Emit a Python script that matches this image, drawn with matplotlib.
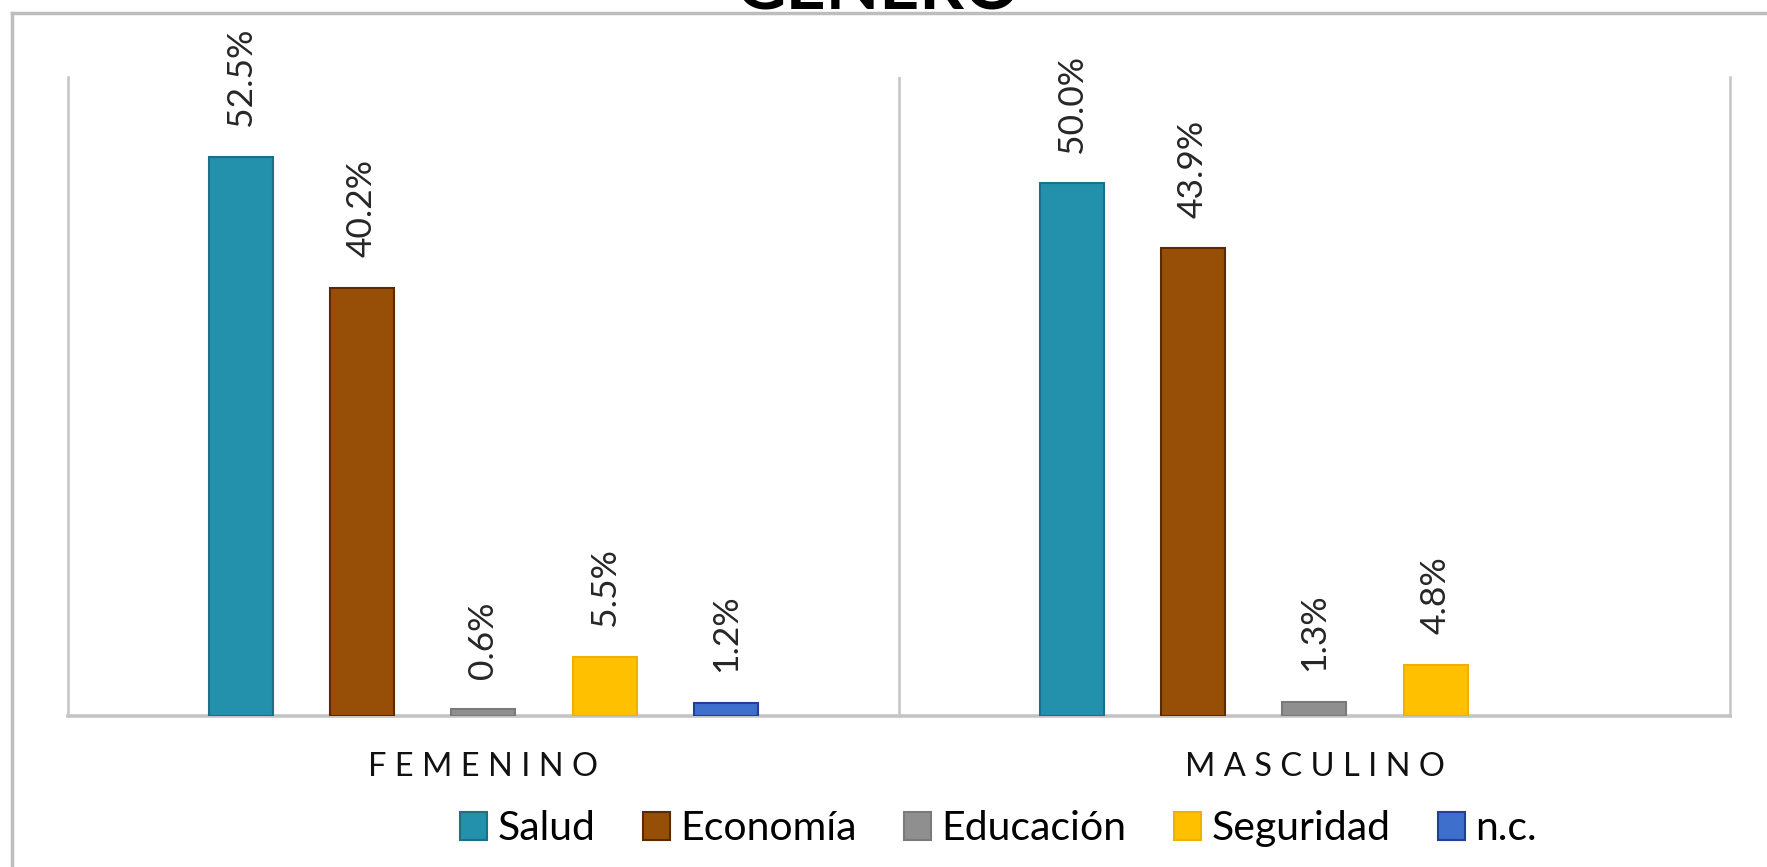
import matplotlib
matplotlib.use('Agg')
import matplotlib.pyplot as plt
from matplotlib.lines import Line2D
import numpy as np

plt.rcParams['font.family'] = ['Lato', 'DejaVu Sans']

CATEGORIES = ['FEMENINO', 'MASCULINO']
SERIES = ['Salud', 'Economía', 'Educación', 'Seguridad', 'n.c.']
SALUD = [52.5, 50.0]
ECONOMIA = [40.2, 43.9]
EDUCACION = [0.6, 1.3]
SEGURIDAD = [5.5, 4.8]
NC = [1.2, None]

COLORS = ['#2391ac', '#974e06', '#8f8f8f', '#ffc000', '#3f6fcc']
EDGES = ['#1b6f86', '#5c2a00', '#7a7a7a', '#f0b000', '#1f3f9a']
GRID = '#c4c4c4'

STEP = 0.146
WIDTH = 0.077


def main():
    fig = plt.figure(figsize=(17.67, 8.67), dpi=100)
    ax = fig.add_axes([0.0383, 0.1746, 0.9408, 0.737])

    values = [SALUD, ECONOMIA, EDUCACION, SEGURIDAD, NC]
    x = np.arange(len(CATEGORIES))
    handles = []
    for i, (name, vals) in enumerate(zip(SERIES, values)):
        xs = [xx + (i - 2) * STEP for xx, v in zip(x, vals) if v is not None]
        vs = [v for v in vals if v is not None]
        bars = ax.bar(xs, vs, WIDTH, color=COLORS[i], edgecolor=EDGES[i],
                      linewidth=1.5, label=name, zorder=3)
        handles.append(bars)
        for xx, v in zip(xs, vs):
            ax.annotate(f'{v:.1f}%', (xx, v), xytext=(0, 22),
                        textcoords='offset points', rotation=90,
                        ha='center', va='bottom', fontsize=25.5,
                        color='#262626')

    ax.set_xlim(-0.5, 1.5)
    ax.set_ylim(0, 60)
    ax.set_yticks([])
    ax.set_xticks(x)
    ax.set_xticklabels([' '.join(c) for c in CATEGORIES], fontsize=23.5,
                       color='#111111')
    ax.tick_params(axis='x', length=0, pad=26)

    ax.spines['top'].set_visible(False)
    for side in ['left', 'right']:
        ax.spines[side].set_color(GRID)
        ax.spines[side].set_linewidth(1.8)
    ax.spines['bottom'].set_color(GRID)
    ax.spines['bottom'].set_linewidth(2.6)
    ax.axvline(0.5, color=GRID, linewidth=1.8, zorder=1)

    fig.legend(handles=handles, labels=SERIES, loc='center',
               bbox_to_anchor=(0.565, 0.044), ncol=5, frameon=False,
               fontsize=29.5, handlelength=0.66, handleheight=0.66,
               handletextpad=0.26, columnspacing=1.15, borderpad=0)

    # outer chart frame (only left and top edges are in view)
    fig.add_artist(Line2D([12 / 1767, 12 / 1767], [0, 1 - 13 / 867],
                          transform=fig.transFigure, color='#bdbdbd', lw=2.5))
    fig.add_artist(Line2D([12 / 1767, 1], [1 - 13 / 867, 1 - 13 / 867],
                          transform=fig.transFigure, color='#bdbdbd', lw=2.5))

    fig.text(0.497, 1 - 9 / 867, 'GENERO', ha='center', va='baseline',
             fontsize=50, fontweight='bold', color='black')

    fig.savefig('out.png', dpi=100, facecolor='white')


if __name__ == '__main__':
    main()
